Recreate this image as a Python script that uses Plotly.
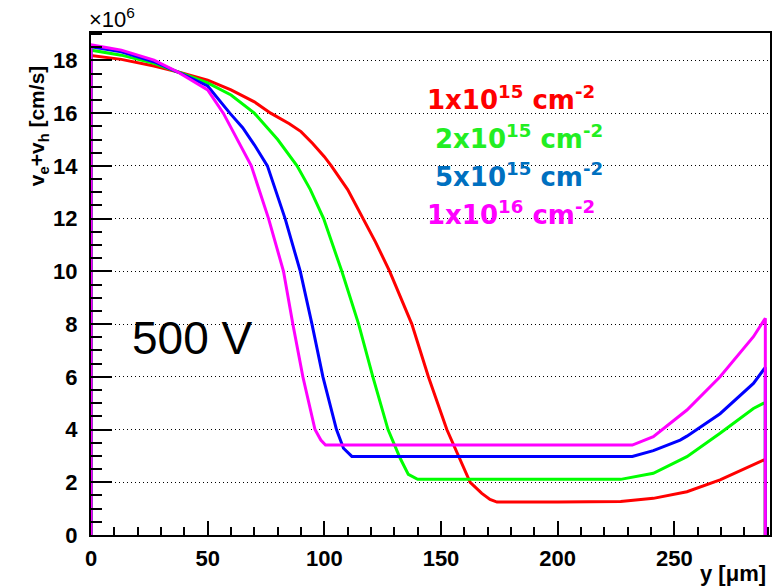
import plotly.graph_objects as go

# ---- data (velocity in units of 1e6 cm/s, position y in micrometres) ----
x_1e15 = [0, 0, 13, 27, 37, 50, 60, 70, 77, 85, 90, 95, 100, 103, 110, 116.8, 122, 128, 137.5, 144.6, 152.5, 162.5, 167.5, 171, 174, 200, 227, 241, 255.4, 269.6, 283.9, 289, 289]
v_1e15 = [0, 18.19, 18.04, 17.79, 17.57, 17.25, 16.88, 16.43, 16.0, 15.6, 15.3, 14.85, 14.35, 14.0, 13.1, 12.0, 11.1, 10.0, 8.0, 6.0, 4.0, 2.0, 1.58, 1.35, 1.25, 1.25, 1.27, 1.39, 1.64, 2.09, 2.65, 2.87, 0]

x_2e15 = [0, 0, 13, 27, 37, 50, 60, 70, 80, 88.3, 94, 99.7, 107.5, 114.7, 120.8, 127.3, 132.5, 136, 140, 200, 227, 241, 255.4, 269.6, 283.9, 289, 289]
v_2e15 = [0, 18.39, 18.2, 17.89, 17.57, 17.15, 16.69, 16.0, 15.0, 14.0, 13.1, 12.0, 10.0, 8.0, 6.0, 4.0, 2.91, 2.3, 2.11, 2.11, 2.11, 2.34, 2.97, 3.86, 4.8, 5.03, 0]

x_5e15 = [0, 0, 13, 27, 37, 50, 59.5, 65, 70, 75.6, 83.2, 89.7, 94.7, 99.4, 105.2, 108.2, 111.8, 200, 232, 241, 252.5, 255.4, 269.6, 283.9, 289, 289]
v_5e15 = [0, 18.52, 18.33, 17.95, 17.57, 17.03, 16.0, 15.45, 14.8, 14.0, 12.0, 10.0, 8.0, 6.0, 4.0, 3.29, 2.98, 2.98, 2.98, 3.2, 3.6, 3.75, 4.6, 5.75, 6.36, 0]

x_1e16 = [0, 0, 13, 27, 37, 50, 56.7, 60, 64, 68.7, 76.1, 82.5, 86.5, 90.8, 96, 98.5, 100.5, 200, 232, 241, 255.4, 269.6, 283.9, 289, 289]
v_1e16 = [0, 18.59, 18.39, 18.01, 17.57, 16.88, 16.0, 15.45, 14.8, 14.0, 12.0, 10.0, 8.0, 6.0, 4.0, 3.6, 3.41, 3.41, 3.41, 3.73, 4.74, 6.0, 7.52, 8.22, 0]

labels = ["1x10<sup>15</sup> cm<sup>-2</sup>", "2x10<sup>15</sup> cm<sup>-2</sup>",
          "5x10<sup>15</sup> cm<sup>-2</sup>", "1x10<sup>16</sup> cm<sup>-2</sup>"]
line_colors = ["#FF0000", "#00FF00", "#0000FF", "#FF00FF"]
text_colors = ["#FF0000", "#22EE22", "#0070C0", "#FF00FF"]
x_tickvals = [0, 50, 100, 150, 200, 250]
y_tickvals = [0, 2, 4, 6, 8, 10, 12, 14, 16, 18]

series = [(x_1e15, v_1e15), (x_2e15, v_2e15), (x_5e15, v_5e15), (x_1e16, v_1e16)]

fig = go.Figure()
for (xs, vs), c, lab in zip(series, line_colors, labels):
    fig.add_trace(go.Scatter(x=xs, y=vs, mode="lines", name=lab,
                             line=dict(color=c, width=3), showlegend=False))

tickfont = dict(family="Liberation Sans, Arial, sans-serif", size=22, color="black", weight="bold")

fig.update_layout(
    width=783, height=588,
    margin=dict(l=91, r=13, t=33, b=53),
    paper_bgcolor="white", plot_bgcolor="white",
    xaxis=dict(range=[0, 291], tickvals=x_tickvals, ticks="inside", ticklen=14, tickwidth=1.5,
               tickcolor="black", showgrid=False, zeroline=False, showline=True,
               linecolor="black", linewidth=2, mirror=True, tickfont=tickfont,
               ticklabelstandoff=3,
               minor=dict(dtick=10, ticks="inside", ticklen=8, tickwidth=1.5, tickcolor="black", showgrid=False)),
    yaxis=dict(range=[0, 19.04], tickvals=y_tickvals, ticks="inside", ticklen=21, tickwidth=1.5,
               tickcolor="black", showgrid=True, gridcolor="black", griddash="1px,3px", gridwidth=1.3,
               zeroline=False, showline=True, linecolor="black", linewidth=2, mirror=True,
               tickfont=tickfont, ticklabelstandoff=7,
               minor=dict(dtick=0.5, ticks="inside", ticklen=11, tickwidth=1.5, tickcolor="black", showgrid=False)),
)

legend_pos = [(0.492, 0.8705), (0.504, 0.793), (0.504, 0.717), (0.492, 0.641)]
for lab, c, (px, py) in zip(labels, text_colors, legend_pos):
    fig.add_annotation(text=lab, xref="paper", yref="paper", x=px, y=py,
                       xanchor="left", yanchor="middle", showarrow=False,
                       font=dict(family="DejaVu Sans", size=26, color=c, weight="bold"))

fig.add_annotation(text="500 V", xref="paper", yref="paper", x=0.0577, y=0.392,
                   xanchor="left", yanchor="middle", showarrow=False,
                   font=dict(family="Liberation Sans, Arial", size=46, color="black"))

fig.add_annotation(text="×10<sup>6</sup>", xref="paper", yref="paper", x=-0.006, y=1.03,
                   xanchor="left", yanchor="middle", showarrow=False,
                   font=dict(family="Liberation Sans, Arial", size=22, color="black"))

fig.add_annotation(text="y [μm]", xref="paper", yref="paper", x=0.9975, y=-0.0757,
                   xanchor="right", yanchor="middle", showarrow=False,
                   font=dict(family="Liberation Sans, Arial", size=22, color="black", weight="bold"))

fig.add_annotation(text="v<sub>e</sub>+v<sub>h</sub> [cm/s]", xref="paper", yref="paper",
                   x=-0.0776, y=0.815, xanchor="center", yanchor="middle", textangle=-90,
                   showarrow=False,
                   font=dict(family="Liberation Sans, Arial", size=21, color="black", weight="bold"))

fig.write_html("out.html")
